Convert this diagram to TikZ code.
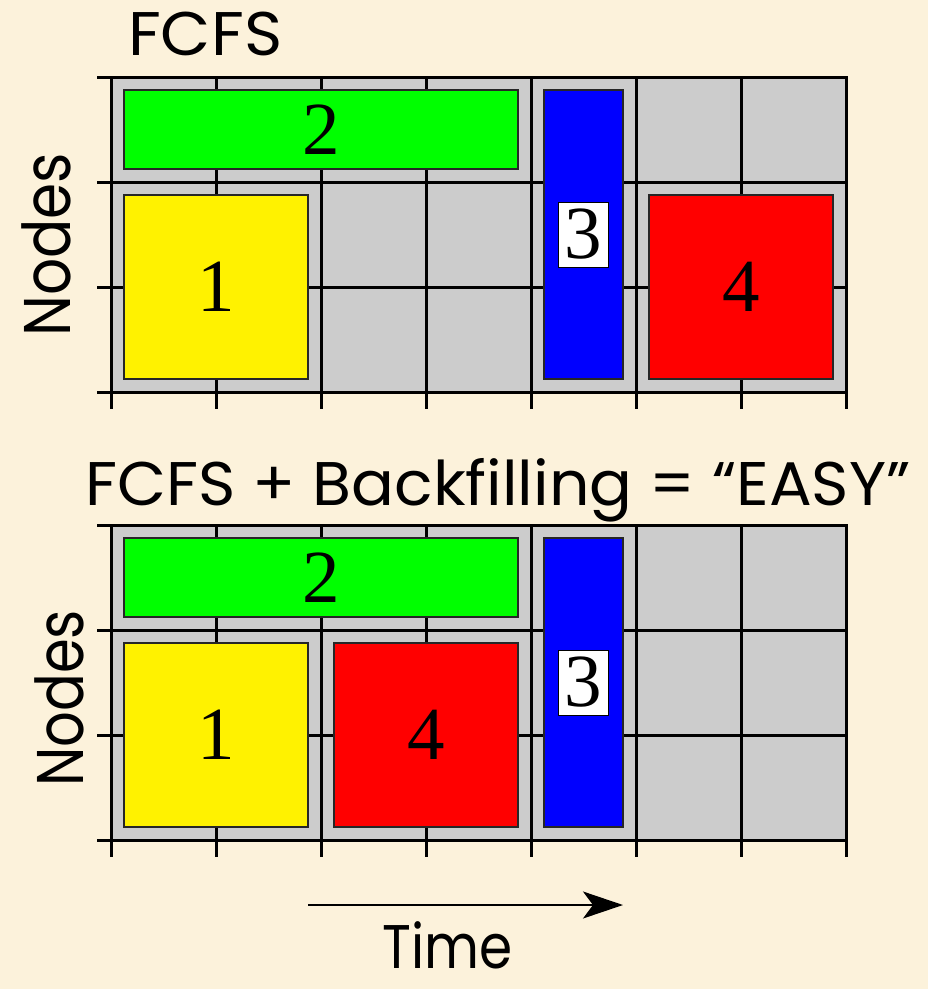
\documentclass[tikz,border=0pt]{standalone}
\usepackage{fontspec}
\usepackage{graphicx}
\setmainfont{Liberation Serif}
\newfontfamily\comicfont{Poppins}
\usetikzlibrary{arrows.meta}
\definecolor{bgc}{RGB}{252,242,219}
\definecolor{cellc}{RGB}{204,204,204}
\newcommand{\fitto}[2]{\resizebox{#1}{\height}{#2}}
\begin{document}
\begin{tikzpicture}[x=1pt,y=-1pt,
  job/.style={draw=black!85, line width=1.5pt, inner sep=0pt, font=\fontsize{75}{75}\selectfont},
  numbox/.style={draw=black, fill=white, line width=1pt, inner sep=0pt, minimum width=50pt, minimum height=65pt, font=\fontsize{75}{75}\selectfont},
  gridline/.style={line width=3pt, black, line cap=rect},
  ttl/.style={inner sep=0pt, font=\comicfont\fontsize{61.6}{62}\selectfont},
  axl/.style={inner sep=0pt, font=\comicfont\fontsize{66}{66}\selectfont}]
\useasboundingbox (0,0) rectangle (928,989);
\fill[bgc] (0,0) rectangle (928,989);

% ---------- top chart (FCFS) ----------
\begin{scope}[shift={(0,77)}]
  \fill[cellc] (111,0) rectangle (846,315);
  \foreach \yy in {0,105,210,315} \draw[gridline] (98,\yy) -- (846,\yy);
  \foreach \xx in {111,216,321,426,531,636,741,846} \draw[gridline] (\xx,0) -- (\xx,330);
  \node[job, fill=green, minimum width=394pt, minimum height=79pt] (a2) at (321,52.5) {2};
  \node[job, fill=yellow, minimum width=184pt, minimum height=184pt] (a1) at (216,210) {1};
  \node[job, fill=blue, minimum width=79pt, minimum height=289pt] (a3) at (583.5,157.5) {};
  \node[numbox] (a3l) at (a3.center) {3};
  \node[job, fill=red, minimum width=184pt, minimum height=184pt] (a4) at (741,210) {4};
\end{scope}

% ---------- bottom chart (EASY) ----------
\begin{scope}[shift={(0,525)}]
  \fill[cellc] (111,0) rectangle (846,315);
  \foreach \yy in {0,105,210,315} \draw[gridline] (98,\yy) -- (846,\yy);
  \foreach \xx in {111,216,321,426,531,636,741,846} \draw[gridline] (\xx,0) -- (\xx,330);
  \node[job, fill=green, minimum width=394pt, minimum height=79pt] (b2) at (321,52.5) {2};
  \node[job, fill=yellow, minimum width=184pt, minimum height=184pt] (b1) at (216,210) {1};
  \node[job, fill=red, minimum width=184pt, minimum height=184pt] (b4) at (426,210) {4};
  \node[job, fill=blue, minimum width=79pt, minimum height=289pt] (b3) at (583.5,157.5) {};
  \node[numbox] (b3l) at (b3.center) {3};
\end{scope}

% ---------- texts ----------
\node[ttl, anchor=base west] (title1) at (128,55) {\fitto{154pt}{FCFS}};
\node[ttl, anchor=base west] (title2) at (85,505) {\fitto{825pt}{FCFS + Backfilling = “EASY”}};
\node[axl, rotate=90, anchor=base west] (nodes1) at (70,337) {\fitto{184pt}{Nodes}};
\node[axl, rotate=90, anchor=base west] (nodes2) at (83,787) {\fitto{177pt}{Nodes}};
\node[ttl, anchor=base west] (time) at (382,968) {\fitto{130pt}{Time}};

% ---------- time arrow ----------
\coordinate (ts) at (308,905);
\coordinate (te) at (623,905);
\draw[line width=1.5pt, -{Stealth[length=40pt,width=27pt,inset=10pt]}] (ts) -- (te);
\end{tikzpicture}
\end{document}
